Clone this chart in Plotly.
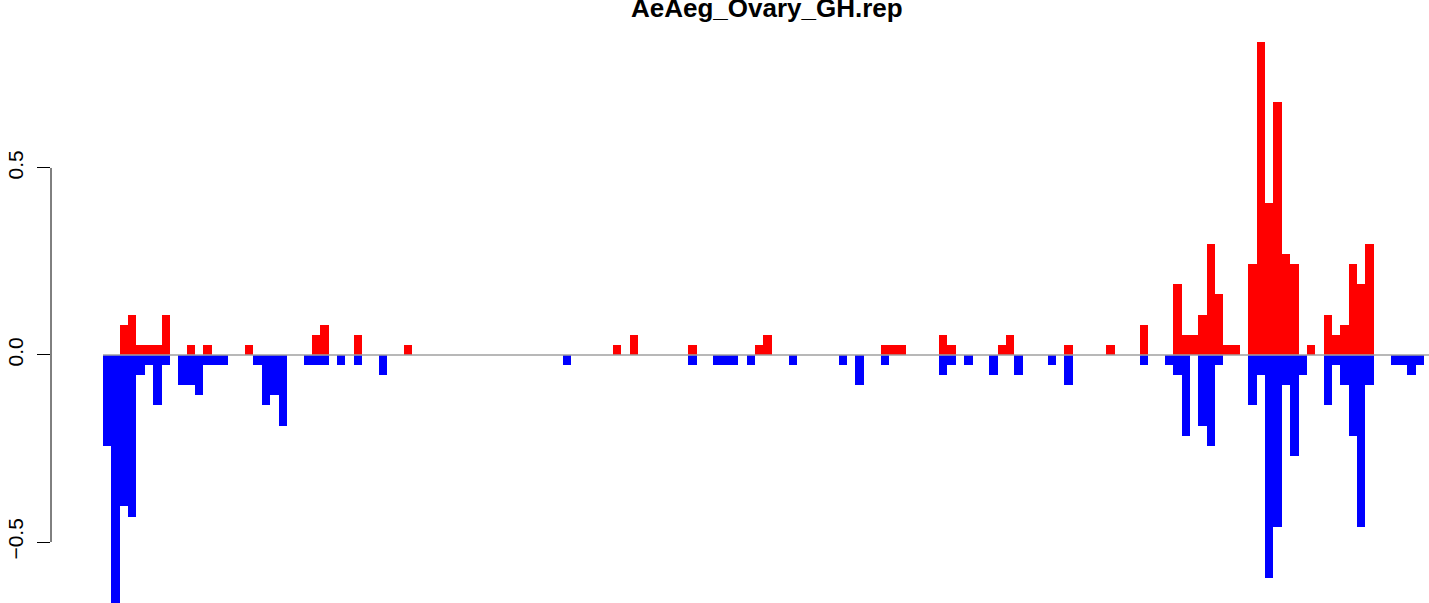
import plotly.graph_objects as go

# bin index along the x axis (158 bins)
bins = list(range(158))

# positive part (red)
up = [0, 0, .081, .108, .027, .027, .027, .108, 0, 0,
      .027, 0, .027, 0, 0, 0, 0, .027, 0, 0,
      0, 0, 0, 0, 0, .054, .081, 0, 0, 0,
      .054, 0, 0, 0, 0, 0, .027, 0, 0, 0,
      0, 0, 0, 0, 0, 0, 0, 0, 0, 0,
      0, 0, 0, 0, 0, 0, 0, 0, 0, 0,
      0, .027, 0, .054, 0, 0, 0, 0, 0, 0,
      .027, 0, 0, 0, 0, 0, 0, 0, .027, .054,
      0, 0, 0, 0, 0, 0, 0, 0, 0, 0,
      0, 0, 0, .027, .027, .027, 0, 0, 0, 0,
      .054, .027, 0, 0, 0, 0, 0, .027, .054, 0,
      0, 0, 0, 0, 0, .027, 0, 0, 0, 0,
      .027, 0, 0, 0, .081, 0, 0, 0, .189, .054,
      .054, .108, .297, .162, .027, .027, 0, .243, .838, .405,
      .676, .270, .243, 0, .027, 0, .108, .054, .081, .243,
      .189, .297, 0, 0, 0, 0, 0, 0]

# negative part (blue)
down = [-.243, -.703, -.405, -.432, -.054, -.027, -.135, -.027, 0, -.081,
        -.081, -.108, -.027, -.027, -.027, 0, 0, 0, -.027, -.135,
        -.108, -.189, 0, 0, -.027, -.027, -.027, 0, -.027, 0,
        -.027, 0, 0, -.054, 0, 0, 0, 0, 0, 0,
        0, 0, 0, 0, 0, 0, 0, 0, 0, 0,
        0, 0, 0, 0, 0, -.027, 0, 0, 0, 0,
        0, 0, 0, 0, 0, 0, 0, 0, 0, 0,
        -.027, 0, 0, -.027, -.027, -.027, 0, -.027, 0, 0,
        0, 0, -.027, 0, 0, 0, 0, 0, -.027, 0,
        -.081, 0, 0, -.027, 0, 0, 0, 0, 0, 0,
        -.054, -.027, 0, -.027, 0, 0, -.054, 0, 0, -.054,
        0, 0, 0, -.027, 0, -.081, 0, 0, 0, 0,
        0, 0, 0, 0, -.027, 0, 0, -.027, -.054, -.216,
        0, -.189, -.243, -.027, 0, 0, 0, -.135, -.054, -.595,
        -.459, -.081, -.270, -.054, 0, 0, -.135, -.027, -.081, -.216,
        -.459, -.081, 0, 0, -.027, -.027, -.054, -.027]

y_ticks = [-0.5, 0.0, 0.5]
y_labels = ["\u22120.5", "0.0", "0.5"]

xs = [b + 0.5 for b in bins]
x_lo, x_hi = -6.22, 158.6

fig = go.Figure()
fig.add_trace(go.Bar(x=xs, y=up, width=1, marker=dict(color="#ff0000", line=dict(width=0))))
fig.add_trace(go.Bar(x=xs, y=down, width=1, marker=dict(color="#0000ff", line=dict(width=0))))

fig.update_layout(
    width=1429, height=603,
    margin=dict(l=51, r=0, t=0, b=0),
    paper_bgcolor="white", plot_bgcolor="white",
    showlegend=False, barmode="overlay", bargap=0,
    font=dict(family="Liberation Sans, Arial, sans-serif", color="black"),
    xaxis=dict(range=[x_lo, x_hi], visible=False),
    yaxis=dict(range=[-0.663, 0.949], tickvals=y_ticks, ticktext=y_labels,
               tickangle=-90, ticks="outside", ticklen=13, tickwidth=1, tickcolor="black",
               tickfont=dict(size=21), ticklabelstandoff=6,
               showgrid=False, zeroline=False, showline=False),
)

# baseline
fig.add_shape(type="line", xref="x", yref="y", x0=0, x1=x_hi, y0=0, y1=0,
              line=dict(color="#a0a0a0", width=1.5), layer="above")
# R-style axis line only between the outer ticks
fig.add_shape(type="line", xref="paper", yref="y", x0=0, x1=0, y0=-0.5, y1=0.5,
              line=dict(color="black", width=1))

fig.add_annotation(text="<b>AeAeg_Ovary_GH.rep</b>", xref="paper", yref="paper",
                   x=0.5196, y=0.987, yanchor="middle", showarrow=False,
                   font=dict(size=26, family="Liberation Sans, Arial, sans-serif"))

fig.write_html("out.html", config={"displayModeBar": False},
               post_script="document.body.style.margin='0';")
